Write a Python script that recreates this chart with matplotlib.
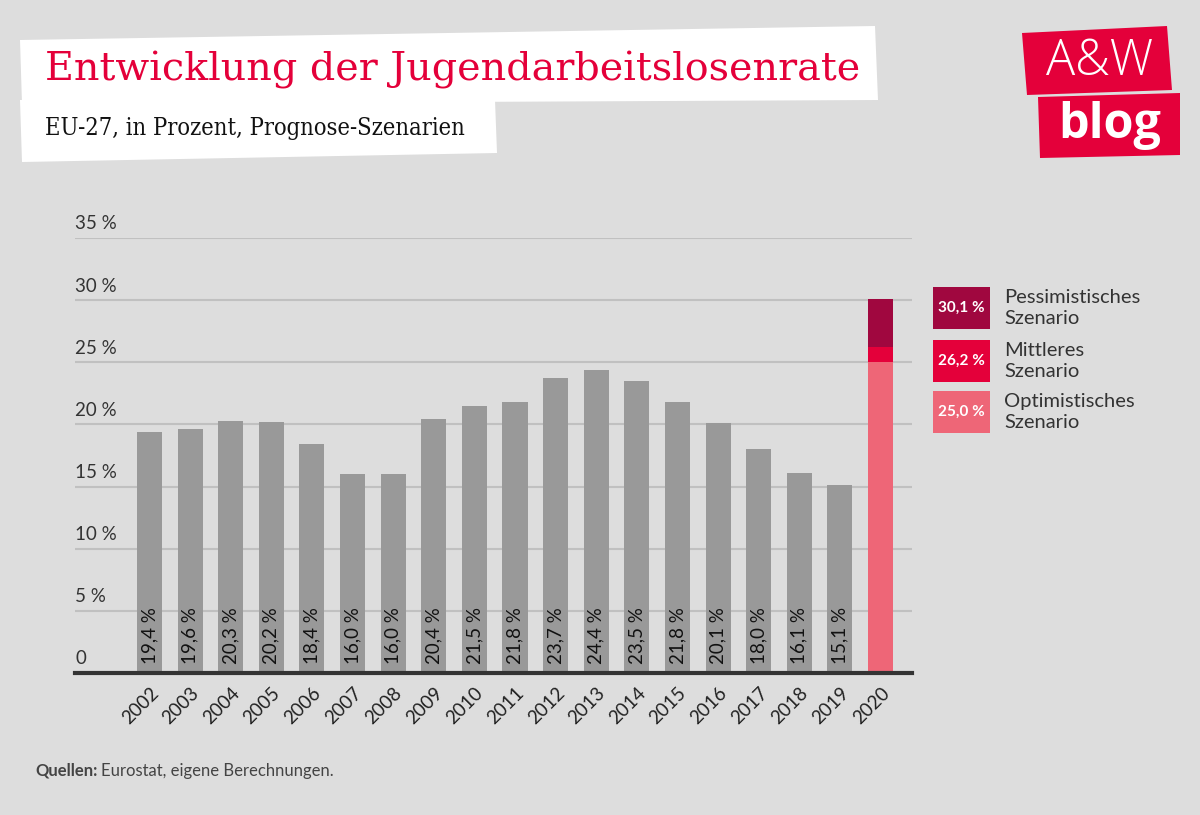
import matplotlib
matplotlib.use("Agg")
import matplotlib.pyplot as plt
from matplotlib.patches import Polygon, Rectangle
from matplotlib.transforms import blended_transform_factory

years = [str(y) for y in range(2002, 2021)]
rates = [19.4, 19.6, 20.3, 20.2, 18.4, 16.0, 16.0, 20.4, 21.5, 21.8, 23.7, 24.4, 23.5, 21.8, 20.1, 18.0, 16.1, 15.1]
scenario_names = ["Pessimistisches\nSzenario", "Mittleres\nSzenario", "Optimistisches\nSzenario"]
scenario_values = [30.1, 26.2, 25.0]
scenario_labels = ["30,1 %", "26,2 %", "25,0 %"]
scenario_colors = ["#a0073f", "#e4003a", "#ee6677"]
yticks = [0, 5, 10, 15, 20, 25, 30, 35]
ytick_labels = ["0", "5 %", "10 %", "15 %", "20 %", "25 %", "30 %", "35 %"]

W, H = 1200, 815
BG = "#dddddd"
fig = plt.figure(figsize=(W / 100, H / 100), dpi=100, facecolor=BG)
sans = ["Lato", "DejaVu Sans"]
serif = ["DejaVu Serif"]

def fx(px):
    return px / W

def fy(py):
    return 1 - py / H

# Title boxes (white, slightly skewed)
fig.patches.append(Polygon([(fx(20), fy(40)), (fx(875), fy(26)), (fx(878), fy(100)), (fx(22), fy(104))],
                           closed=True, transform=fig.transFigure, facecolor="white", edgecolor="none"))
fig.patches.append(Polygon([(fx(20), fy(100)), (fx(495), fy(100)), (fx(497), fy(153)), (fx(22), fy(162))],
                           closed=True, transform=fig.transFigure, facecolor="white", edgecolor="none"))
fig.text(fx(45), fy(70), "Entwicklung der Jugendarbeitslosenrate", color="#e4003a",
         fontsize=28.5, family=serif, va="center", ha="left")
fig.text(fx(45), fy(128), "EU-27, in Prozent, Prognose-Szenarien", color="#111111",
         fontsize=17, family=serif, va="center", ha="left", stretch="condensed")

# Logo
fig.patches.append(Polygon([(fx(1022), fy(33)), (fx(1167), fy(26)), (fx(1172), fy(90)), (fx(1027), fy(95))],
                           closed=True, transform=fig.transFigure, facecolor="#e4003a", edgecolor="none"))
fig.patches.append(Polygon([(fx(1038), fy(97)), (fx(1180), fy(93)), (fx(1180), fy(155)), (fx(1040), fy(158))],
                           closed=True, transform=fig.transFigure, facecolor="#e4003a", edgecolor="none"))
fig.text(fx(1100), fy(62), "A&W", color="white", fontsize=35, family=["Open Sans", "DejaVu Sans"],
         va="center", ha="center", fontweight="light")
fig.text(fx(1110), fy(125), "blog", color="white", fontsize=35, family=["Open Sans", "DejaVu Sans"],
         fontweight="bold", va="center", ha="center")

# Axes
x0, x1 = 75, 912
ytop, ybot = 238, 673
ax = fig.add_axes([fx(x0), fy(ybot), fx(x1) - fx(x0), (ybot - ytop) / H])
ax.set_facecolor("none")
n = len(years)
xs = list(range(n))
ax.set_xlim(-1.835, 18.776)
ax.set_ylim(0, 35)
for s in ["top", "right", "left"]:
    ax.spines[s].set_visible(False)
ax.spines["bottom"].set_color("#333333")
ax.spines["bottom"].set_linewidth(3)
ax.spines["bottom"].set_zorder(5)
for t in yticks[1:]:
    ax.axhline(t, color="#c0c0c0", linewidth=1.5, zorder=0)
ax.set_yticks([])
ax.set_xticks(xs)
ax.set_xticklabels(years, rotation=45, ha="right", va="top", rotation_mode="anchor",
                   fontsize=13.5, family=sans, color="#222222")
ax.tick_params(axis="x", length=0, pad=8)

trans = blended_transform_factory(ax.transAxes, ax.transData)
for t, lab in zip(yticks, ytick_labels):
    ax.text(0, t + 0.45, lab, transform=trans, ha="left", va="bottom",
            fontsize=13.5, family=sans, color="#333333")

bw = 0.616
ax.bar(xs[:-1], rates, width=bw, color="#999999", zorder=2)
for x, v in zip(xs[:-1], rates):
    ax.text(x, 0.75, f"{v:.1f}".replace(".", ",") + " %", rotation=90, ha="center", va="bottom",
            fontsize=13.5, family=sans, color="#111111", zorder=3)

# 2020 stacked scenarios
pess, mid, opt = scenario_values
ax.bar(xs[-1], opt, width=bw, color=scenario_colors[2], zorder=2)
ax.bar(xs[-1], mid - opt, bottom=opt, width=bw, color=scenario_colors[1], zorder=2)
ax.bar(xs[-1], pess - mid, bottom=mid, width=bw, color=scenario_colors[0], zorder=2)

# Legend
box_tops = [287, 340, 391]
for top, name, lab, col in zip(box_tops, scenario_names, scenario_labels, scenario_colors):
    fig.patches.append(Rectangle((fx(933), fy(top + 42)), fx(57), 42 / H, transform=fig.transFigure,
                                 facecolor=col, edgecolor="none"))
    fig.text(fx(961.5), fy(top + 21), lab, color="white", fontsize=11, fontweight="bold",
             family=sans, ha="center", va="center")
    fig.text(fx(1004), fy(top + 21), name, color="#333333", fontsize=14.5, family=sans,
             ha="left", va="center", linespacing=1.25)

fig.text(fx(35), fy(771), "Quellen:", color="#444444", fontsize=12, family=sans,
         fontweight="bold", ha="left", va="center")
fig.text(fx(101), fy(771), "Eurostat, eigene Berechnungen.", color="#444444", fontsize=12,
         family=sans, ha="left", va="center")

fig.savefig("out.png", dpi=100, facecolor=BG)
